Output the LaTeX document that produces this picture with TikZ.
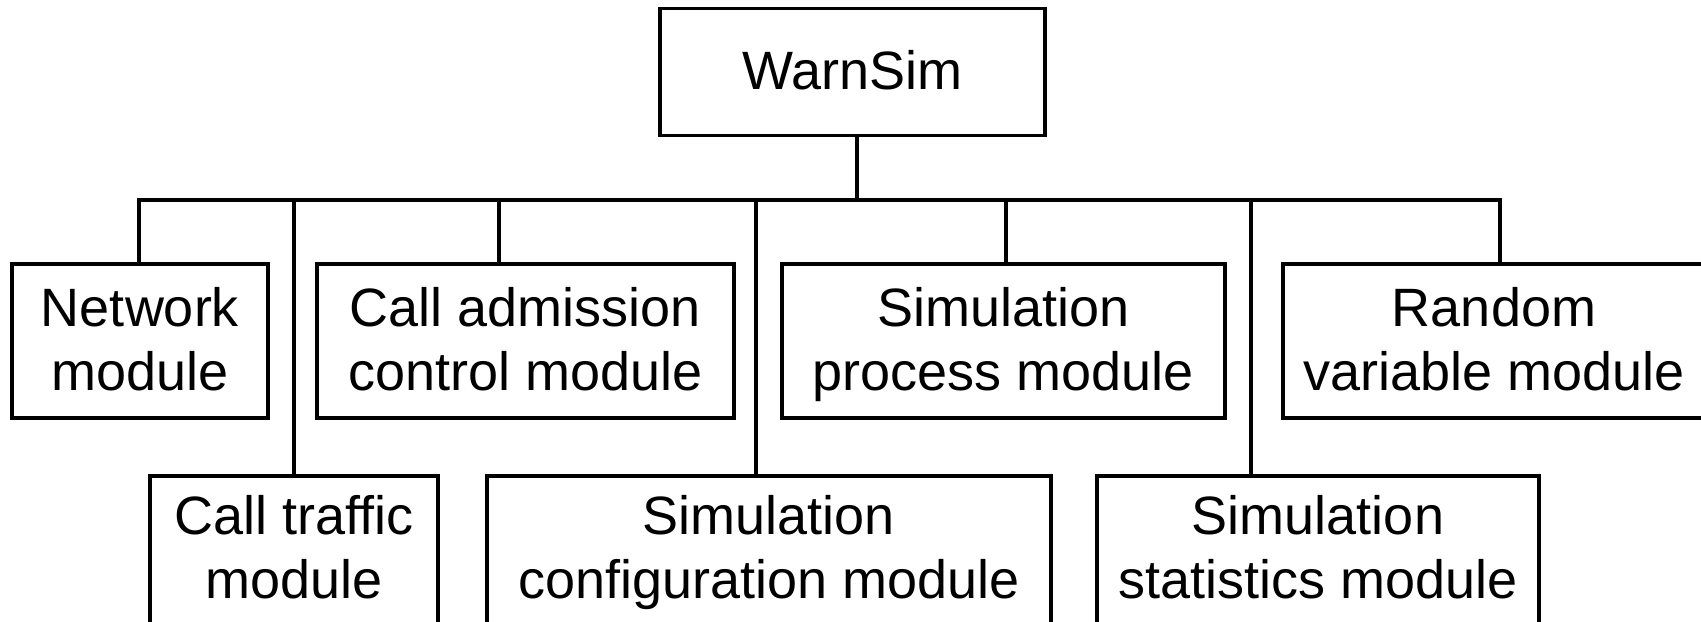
\documentclass[tikz,border=0pt]{standalone}
\usepackage{fontspec}
\setmainfont{Liberation Sans}
\begin{document}
\begin{tikzpicture}[x=0.5pt,y=-0.5pt,
  box/.style={draw, line width=1.6pt, align=center, inner sep=0pt,
    font=\fontsize{27pt}{32pt}\selectfont, text height=52pt, text depth=3pt},
  rootbox/.style={box, text height=20pt, text depth=3pt},
  lowbox/.style={box, text depth=7pt},
  link/.style={line width=1.6pt}]
\useasboundingbox (0,0) rectangle (1701,621);
% root
\node[rootbox, minimum width=192.5pt, minimum height=63.5pt] (warn) at (852.5,72) {WarnSim};
% top row
\node[box, minimum width=128pt, minimum height=77pt] (net) at (140,341) {Network\\module};
\node[box, minimum width=208.5pt, minimum height=77pt] (cac) at (525.5,341) {Call admission\\control module};
\node[box, minimum width=221.5pt, minimum height=77pt] (proc) at (1003.5,341) {Simulation\\process module};
\node[box, minimum width=211pt, minimum height=77pt] (rand) at (1494,341) {Random\\variable module};
% bottom row
\node[lowbox, minimum width=144pt, minimum height=77pt] (traf) at (294,553) {Call traffic\\module};
\node[lowbox, minimum width=282pt, minimum height=77pt] (conf) at (769,553) {Simulation\\configuration module};
\node[lowbox, minimum width=221pt, minimum height=77pt] (stat) at (1318,553) {Simulation\\statistics module};
% bus points
\coordinate (hub) at (857,200);
\coordinate (cNet) at (139,200);
\coordinate (cTraf) at (294,200);
\coordinate (cCac) at (499,200);
\coordinate (cConf) at (756,200);
\coordinate (cProc) at (1006,200);
\coordinate (cStat) at (1251,200);
\coordinate (cRand) at (1500,200);
% connectors
\draw[link] (hub |- warn.south) -- (hub);
\draw[link] (cNet |- net.north) -- (cNet) -- (cRand) -- (cRand |- rand.north);
\draw[link] (cTraf) -- (cTraf |- traf.north);
\draw[link] (cCac) -- (cCac |- cac.north);
\draw[link] (cConf) -- (cConf |- conf.north);
\draw[link] (cProc) -- (cProc |- proc.north);
\draw[link] (cStat) -- (cStat |- stat.north);
\end{tikzpicture}
\end{document}
